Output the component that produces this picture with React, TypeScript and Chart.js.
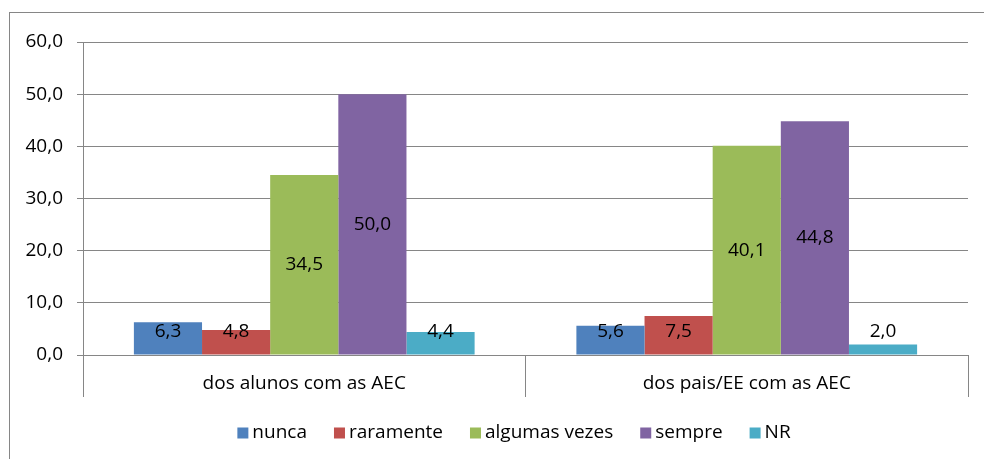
import React, { useEffect, useRef } from "react";
import { Chart, registerables } from "chart.js";

Chart.register(...registerables);

const categories = ["dos alunos com as AEC", "dos pais/EE com as AEC"];
const seriesNames = ["nunca", "raramente", "algumas vezes", "sempre", "NR"];
const nunca = [6.3, 5.6];
const raramente = [4.8, 7.5];
const algumasVezes = [34.5, 40.1];
const sempre = [50.0, 44.8];
const nr = [4.4, 2.0];
const yTicks = [0, 10, 20, 30, 40, 50, 60];

const colors = ["#4F81BD", "#C0504D", "#9BBB59", "#8064A2", "#4BACC6"];
const FONT = "'Open Sans', 'Noto Sans', sans-serif";
const FS = 19;
const GRAY = "#868686";

const fmt = (v: number) => v.toFixed(1).replace(".", ",");

export default function App() {
  const ref = useRef<HTMLCanvasElement | null>(null);

  useEffect(() => {
    if (!ref.current) return;
    const seriesValues = [nunca, raramente, algumasVezes, sempre, nr];

    const frame = {
      id: "frame",
      beforeDraw(chart: any) {
        const c = chart.ctx;
        c.save();
        c.fillStyle = "#fff";
        c.fillRect(0, 0, chart.width, chart.height);
        c.strokeStyle = GRAY;
        c.lineWidth = 1;
        c.strokeRect(9.5, 12.5, 1100, 1000);
        c.restore();
      },
    };

    const labels = {
      id: "valueLabels",
      afterDatasetsDraw(chart: any) {
        const c = chart.ctx;
        c.save();
        c.font = `${FS}px ${FONT}`;
        c.fillStyle = "#000";
        c.textAlign = "center";
        c.textBaseline = "middle";
        chart.data.datasets.forEach((ds: any, di: number) => {
          const meta = chart.getDatasetMeta(di);
          meta.data.forEach((el: any, i: number) => {
            const cy = Math.min((el.y + el.base) / 2, el.base - 23);
            c.fillText(fmt(ds.data[i]), el.x, cy);
          });
        });
        c.restore();
      },
    };

    const legend = {
      id: "customLegend",
      afterDraw(chart: any) {
        const c = chart.ctx;
        c.save();
        c.font = `${FS}px ${FONT}`;
        const box = 11;
        const gapBox = 4;
        const gapItem = 27;
        const widths = seriesNames.map((n) => c.measureText(n).width);
        const total =
          widths.reduce((a, w) => a + box + gapBox + w, 0) +
          gapItem * (seriesNames.length - 1);
        let x = 514 - total / 2;
        const y = 433;
        c.textBaseline = "middle";
        c.textAlign = "left";
        seriesNames.forEach((n, i) => {
          c.fillStyle = colors[i];
          c.fillRect(x, y - box / 2, box, box);
          c.fillStyle = "#000";
          c.fillText(n, x + box + gapBox, y);
          x += box + gapBox + widths[i] + gapItem;
        });
        c.restore();
      },
    };

    const chart = new Chart(ref.current, {
      type: "bar",
      data: {
        labels: categories,
        datasets: seriesNames.map((name, i) => ({
          label: name,
          data: seriesValues[i],
          backgroundColor: colors[i],
          borderWidth: 0,
          categoryPercentage: 0.77,
          barPercentage: 1,
        })),
      },
      options: {
        responsive: false,
        animation: false,
        events: [],
        layout: { padding: { top: 42, right: 16, left: 0, bottom: 0 } },
        plugins: {
          legend: { display: false },
          tooltip: { enabled: false },
          title: { display: false },
        },
        scales: {
          x: {
            offset: true,
            grid: {
              offset: true,
              drawOnChartArea: false,
              drawTicks: true,
              tickLength: 42,
              color: GRAY,
              lineWidth: 1,
            },
            border: { display: true, color: GRAY, width: 1 },
            ticks: {
              color: "#000",
              font: { family: FONT, size: FS },
              padding: -25,
              maxRotation: 0,
            },
            afterFit(s: any) {
              s.height = 104;
            },
          },
          y: {
            min: 0,
            max: 60,
            afterBuildTicks(s: any) {
              s.ticks = yTicks.map((v) => ({ value: v }));
            },
            grid: {
              color: GRAY,
              lineWidth: 1,
              drawTicks: true,
              tickLength: 6,
            },
            border: { display: true, color: GRAY, width: 1 },
            ticks: {
              color: "#000",
              font: { family: FONT, size: FS },
              padding: 14,
              callback: (v: any) => fmt(Number(v)),
            },
            afterFit(s: any) {
              s.width = 83;
            },
          },
        },
      },
      plugins: [frame, labels, legend],
    });
    return () => chart.destroy();
  }, []);

  return (
    <div style={{ position: "absolute", left: 0, top: 0, width: 984, height: 459 }}>
      <canvas ref={ref} width={984} height={459} style={{ width: 984, height: 459 }} />
    </div>
  );
}
